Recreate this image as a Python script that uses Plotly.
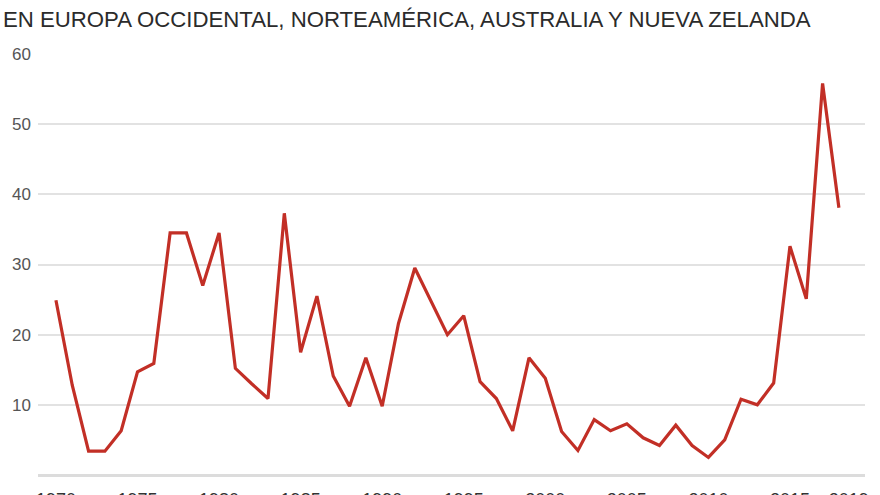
import plotly.graph_objects as go

title_text = "EN EUROPA OCCIDENTAL, NORTEAMÉRICA, AUSTRALIA Y NUEVA ZELANDA"

years = list(range(1970, 2019))
values = [
    24.9, 12.8, 3.4, 3.4, 6.3, 14.7, 15.9, 34.5, 34.5, 27.0,
    34.5, 15.2, 13.0, 10.9, 37.3, 17.5, 25.5, 14.1, 9.8, 16.7,
    9.8, 21.6, 29.5, 24.8, 20.0, 22.7, 13.3, 10.9, 6.3, 16.7,
    13.8, 6.2, 3.5, 7.9, 6.3, 7.3, 5.3, 4.2, 7.1, 4.2,
    2.5, 5.0, 10.8, 10.0, 13.1, 32.6, 25.1, 55.8, 38.1,
]

x_tick_vals = [1970, 1975, 1980, 1985, 1990, 1995, 2000, 2005, 2010, 2015, 2018.6]
x_tick_text = ["1970", "1975", "1980", "1985", "1990", "1995", "2000", "2005", "2010", "2015", "2019"]
y_tick_vals = [10, 20, 30, 40, 50, 60]

fig = go.Figure()
fig.add_trace(go.Scatter(
    x=years, y=values, mode="lines",
    line=dict(color="#c22f26", width=3.2),
    hoverinfo="x+y", showlegend=False,
))

fig.update_layout(
    width=880, height=495,
    margin=dict(l=38, r=15, t=54, b=20, autoexpand=False),
    paper_bgcolor="white", plot_bgcolor="white",
    font=dict(family="Liberation Sans, Arial, sans-serif", color="#444"),
    title=dict(
        text=title_text, xref="container", yref="container",
        x=3 / 880, xanchor="left", y=1 - 19 / 495, yanchor="middle",
        font=dict(size=22.2, color="#2b2b2b", family="Liberation Sans, Arial, sans-serif"),
    ),
    xaxis=dict(
        range=[1968.9, 2019.6], showgrid=False, zeroline=False,
        tickmode="array", tickvals=x_tick_vals, ticktext=x_tick_text,
        ticks="", ticklabelstandoff=12, automargin=False,
        tickfont=dict(size=18, color="#333"),
        showline=False, fixedrange=True,
    ),
    yaxis=dict(
        range=[0, 60], tickmode="array", tickvals=y_tick_vals,
        showgrid=True, gridcolor="#e2e2e2", gridwidth=1.5,
        zeroline=True, zerolinecolor="#dcdcdc", zerolinewidth=2.5,
        ticks="", ticklabelstandoff=6, automargin=False,
        tickfont=dict(size=17, color="#555"),
        showline=False, fixedrange=True,
    ),
)

fig.write_html("out.html")
